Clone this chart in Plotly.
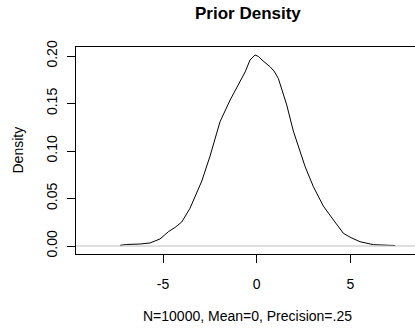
import plotly.graph_objects as go

# Density curve (x, density)
dens_x = [-7.29, -6.93, -6.22, -5.69, -5.16, -4.71, -4.36, -4.00, -3.56, -3.18,
          -2.93, -2.49, -1.96, -1.42, -0.89, -0.62, -0.36, -0.18, -0.09, 0.09, 0.28,
          0.71, 0.92, 1.15, 1.42, 1.60, 1.95, 2.31, 2.58, 3.02, 3.55, 4.09, 4.62,
          4.98, 5.51, 6.22, 7.38]
dens_y = [0.0007, 0.0016, 0.0021, 0.0032, 0.0074, 0.0151, 0.0195, 0.0253, 0.0397, 0.0579,
          0.0684, 0.0947, 0.1308, 0.1537, 0.1726, 0.1832, 0.1958, 0.2000, 0.2011, 0.1995, 0.1958,
          0.1887, 0.1842, 0.1765, 0.1579, 0.1484, 0.1211, 0.0993, 0.0835, 0.0624, 0.0421, 0.0274, 0.0134,
          0.0092, 0.0045, 0.0014, 0.0005]

x_ticks = [-5, 0, 5]
x_tick_labels = ["-5", "0", "5"]
y_ticks = [0.0, 0.05, 0.10, 0.15, 0.20]
y_tick_labels = ["0.00", "0.05", "0.10", "0.15", "0.20"]

title_text = "Prior Density"
x_label = "N=10000, Mean=0, Precision=.25"
y_label = "Density"

FONT = "Liberation Sans, Arial, sans-serif"

fig = go.Figure()
fig.add_trace(go.Scatter(x=dens_x, y=dens_y, mode="lines",
                         line=dict(color="black", width=1), hoverinfo="skip",
                         showlegend=False))

fig.update_layout(
    width=415, height=328,
    margin=dict(l=76, r=0, t=47, b=74),
    paper_bgcolor="white", plot_bgcolor="white",
    font=dict(family=FONT, size=14, color="black"),
    showlegend=False,
    xaxis=dict(range=[-9.64, 8.44], tickvals=x_ticks, ticktext=x_tick_labels,
               ticks="outside", ticklen=8,
               tickcolor="black", tickwidth=1, showline=True, linecolor="black",
               linewidth=1, mirror=True, showgrid=False, zeroline=False,
               ticklabelstandoff=9,
               tickfont=dict(family=FONT, size=14, color="black")),
    yaxis=dict(range=[-0.00842, 0.2095], tickvals=y_ticks, ticktext=y_tick_labels,
               ticks="outside", ticklen=8, tickcolor="black", tickwidth=1,
               showline=True, linecolor="black", linewidth=1, mirror=False,
               showgrid=False, zeroline=False, tickangle=-90,
               ticklabelstandoff=4,
               tickfont=dict(family=FONT, size=14, color="black")),
    shapes=[dict(type="line", xref="paper", x0=0, x1=1, yref="y", y0=0, y1=0,
                 line=dict(color="#BEBEBE", width=1), layer="above")],
    annotations=[
        dict(text="<b>" + title_text + "</b>", xref="paper", yref="paper", x=0.507, y=1.164,
             xanchor="center", yanchor="middle", showarrow=False,
             font=dict(family=FONT, size=17, color="black")),
        dict(text=x_label, xref="paper", yref="paper", x=0.507, y=-0.298,
             xanchor="center", yanchor="middle", showarrow=False,
             font=dict(family=FONT, size=14, color="black")),
        dict(text=y_label, xref="paper", yref="paper", x=-0.174, y=0.5, textangle=-90,
             xanchor="center", yanchor="middle", showarrow=False,
             font=dict(family=FONT, size=14, color="black")),
    ],
)

fig.write_html("out.html")
